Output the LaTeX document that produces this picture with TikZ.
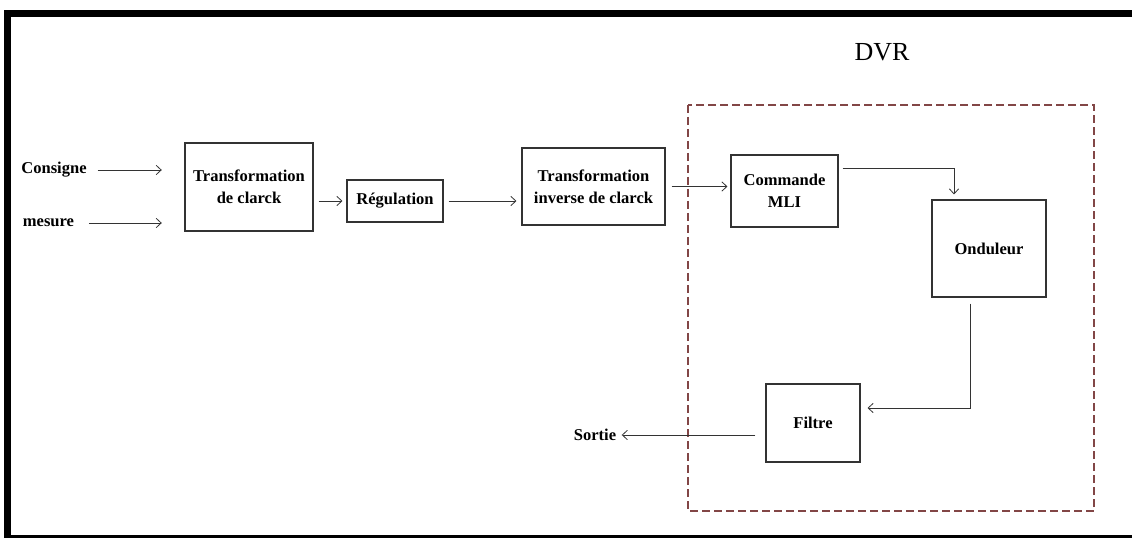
\documentclass[tikz,border=0pt]{standalone}
\usepackage{fontspec}
\setmainfont{Liberation Serif}
\usetikzlibrary{arrows.meta}
\definecolor{dvrred}{RGB}{130,70,70}

\begin{document}
\begin{tikzpicture}[
    x=0.75pt, y=-0.75pt,
    bloc/.style={draw=black!80, line width=0.8pt, align=center, inner sep=0pt, font=\fontsize{12.4}{16.5}\selectfont\bfseries},
    lbl/.style={inner sep=1pt, font=\fontsize{12.4}{16.5}\selectfont\bfseries},
    arrow/.style={-{Straight Barb[length=3.8pt,width=7pt]}, line width=0.6pt, draw=black!80},
    dvrbox/.style={draw=dvrred, line width=0.9pt, dash pattern=on 6pt off 3pt}
]
\useasboundingbox (0,0) rectangle (1132,538);
\fill (4,10) rectangle (1132,17);
\fill (4,10) rectangle (11,538);
\fill (4,535) rectangle (1132,538);

\node[bloc, minimum width=96pt, minimum height=66pt] (tc) at (249,187) {Transformation\\de clarck};
\node[bloc, minimum width=72pt, minimum height=31.5pt] (reg) at (395,201) {Régulation};
\node[bloc, minimum width=107.25pt, minimum height=57.75pt] (tic) at (593.5,186.5) {Transformation\\inverse de clarck};
\node[bloc, minimum width=80.25pt, minimum height=54pt] (mli) at (784.5,191) {Commande\\MLI};
\node[bloc, minimum width=85.5pt, minimum height=72.75pt] (ond) at (989,248.5) {Onduleur};
\node[bloc, minimum width=70.5pt, minimum height=58.5pt] (fil) at (813,423) {Filtre};

\node[lbl] (cons) at (54,170) {Consigne};
\node[lbl] (mes) at (48.5,223) {mesure};
\node[lbl] (sortie) at (595,435) {Sortie};
\node[font=\fontsize{19.5}{23}\selectfont] (dvr) at (882,52) {DVR};

\draw[dvrbox] (688,105) rectangle (1094,511);

\draw[arrow, shorten <=7pt, shorten >=17pt] (cons.east) -- (cons.east -| tc.west);
\draw[arrow, shorten <=10pt, shorten >=17pt] (mes.east) -- (mes.east -| tc.west);
\draw[arrow, shorten <=3.75pt, shorten >=3pt] (tc.east |- reg.west) -- (reg.west);
\draw[arrow, shorten <=3.75pt, shorten >=3.75pt] (reg.east) -- (reg.east -| tic.west);
\draw[arrow, shorten <=4.5pt, shorten >=2.25pt] (tic.east) -- (tic.east -| mli.west);
\draw[arrow, shorten <=3pt, shorten >=3.75pt] ([yshift=-10.5pt]mli.north east) -| ([xshift=-26.25pt]ond.north);
\draw[arrow, shorten <=4.5pt, shorten >=5.25pt] ([xshift=-14.25pt]ond.south) |- ([yshift=11.25pt]fil.east);
\draw[arrow, shorten <=7.5pt, shorten >=3pt] ([yshift=-9pt]fil.west) -- (sortie.east);
\end{tikzpicture}
\end{document}
